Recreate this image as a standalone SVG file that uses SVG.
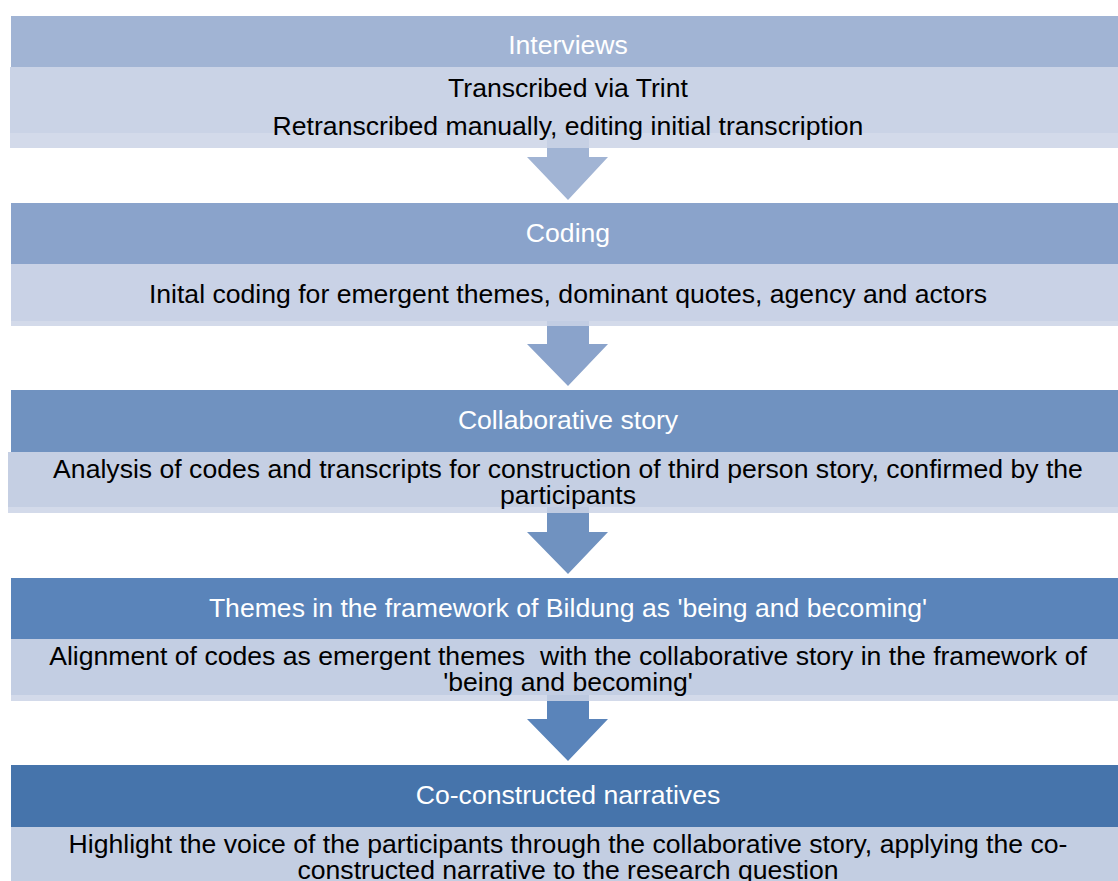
<svg xmlns="http://www.w3.org/2000/svg" width="1118" height="881" viewBox="0 0 1118 881">
<style>
.t{font-family:"Liberation Sans",Arial,sans-serif;font-size:26.6px;text-anchor:middle}
.h{fill:#FFFFFF}
.b{fill:#000000}
.strip{opacity:0.86}
.pre{white-space:pre}
</style>
<rect x="0" y="0" width="1118" height="881" fill="#FFFFFF"/>
<g id="connectors">
<polygon points="547,133 589,133 589,157 608,157 568,200 527,157 547,157" fill="#A1B4D4"/>
<polygon points="547,321 589,321 589,344 608,344 568,386 527,344 547,344" fill="#8AA3CB"/>
<polygon points="547,507 589,507 589,532 608,532 568,574 527,532 547,532" fill="#7092C0"/>
<polygon points="547,695 589,695 589,719 608,719 568,761 527,719 547,719" fill="#5A84BA"/>
</g>
<g id="node-interviews">
<rect x="11" y="16" width="1120" height="51" fill="#A1B4D4"/>
<rect x="10" y="67" width="1120" height="66" fill="#CAD3E6"/>
<rect class="strip" x="10" y="133" width="1120" height="15" fill="#CCD4E7"/>
<text class="t h" x="568" y="54">Interviews</text>
<text class="t b" x="568" y="97">Transcribed via Trint</text>
<text class="t b" x="568" y="135">Retranscribed manually, editing initial transcription</text>
</g>
<g id="node-coding">
<rect x="11" y="203" width="1120" height="61" fill="#8AA3CB"/>
<rect x="11" y="264" width="1120" height="57" fill="#C9D2E6"/>
<rect class="strip" x="11" y="321" width="1120" height="5" fill="#CCD4E7"/>
<text class="t h" x="568" y="242">Coding</text>
<text class="t b" x="568" y="303">Inital coding for emergent themes, dominant quotes, agency and actors</text>
</g>
<g id="node-story">
<rect x="11" y="390" width="1120" height="62" fill="#7092C0"/>
<rect x="8" y="452" width="1120" height="55" fill="#C5CFE3"/>
<rect class="strip" x="8" y="507" width="1120" height="6" fill="#CCD4E7"/>
<text class="t h" x="568" y="429">Collaborative story</text>
<text class="t b" x="568" y="478">Analysis of codes and transcripts for construction of third person story, confirmed by the</text>
<text class="t b" x="568" y="504">participants</text>
</g>
<g id="node-themes">
<rect x="11" y="578" width="1120" height="61" fill="#5A84BA"/>
<rect x="11" y="639" width="1120" height="56" fill="#C3CEE3"/>
<rect class="strip" x="11" y="695" width="1120" height="6" fill="#CCD4E7"/>
<text class="t h" x="568" y="617">Themes in the framework of Bildung as 'being and becoming'</text>
<text class="t b pre" x="568" y="665">Alignment of codes as emergent themes  with the collaborative story in the framework of</text>
<text class="t b" x="568" y="691">'being and becoming'</text>
</g>
<g id="node-narratives">
<rect x="11" y="765" width="1120" height="62" fill="#4674AB"/>
<rect x="11" y="827" width="1120" height="60" fill="#C3CEE2"/>
<text class="t h" x="568" y="804">Co-constructed narratives</text>
<text class="t b" x="568" y="853">Highlight the voice of the participants through the collaborative story, applying the co-</text>
<text class="t b" x="568" y="879">constructed narrative to the research question</text>
</g>
</svg>
